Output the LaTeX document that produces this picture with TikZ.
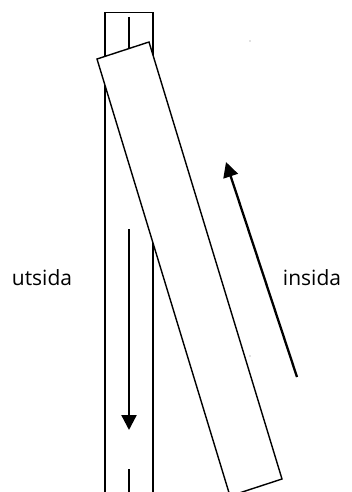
\documentclass[tikz,border=0pt]{standalone}
\usepackage{fontspec}
\setmainfont{Open Sans}
\usetikzlibrary{arrows.meta}

\begin{document}
\begin{tikzpicture}[x=1pt,y=-1pt,line width=1.4pt,
    flow/.style={line width=2.3pt,-{Triangle[length=15pt,width=15pt]}},
    side/.style={font=\fontsize{21}{25}\selectfont,anchor=base}]
    \useasboundingbox (0,0) rectangle (351,492);
    \clip (0,0) rectangle (351,492);
    % the fixed strip
    \coordinate (s_bl) at (105,492);
    \coordinate (s_tl) at (105,12.7);
    \coordinate (s_tr) at (153,12.7);
    \coordinate (s_br) at (153,492);
    \draw (s_bl) -- (s_tl) -- (s_tr) -- (s_br);
    \draw (129,17) -- (129,90);
    \draw (129,469) -- (129,492);
    % the tilted board
    \coordinate (b_1) at (97,59);
    \coordinate (b_2) at (149,42);
    \coordinate (b_3) at (282,479);
    \coordinate (b_4) at (230,496);
    \filldraw[fill=white] (b_1) -- (b_2) -- (b_3) -- (b_4) -- cycle;
    % flows
    \coordinate (down_s) at (129,229);
    \coordinate (down_e) at (129,430);
    \coordinate (up_s) at (297,377);
    \coordinate (up_e) at (226,162);
    \draw[flow] (down_s) -- (down_e);
    \draw[flow] (up_s) -- (up_e);
    \fill[gray] (250,41) circle (0.6);
    \fill[gray] (250,356) circle (0.6);
    \node[side] (out) at (42,285) {utsida};
    \node[side] (in) at (312,285) {insida};
\end{tikzpicture}
\end{document}
